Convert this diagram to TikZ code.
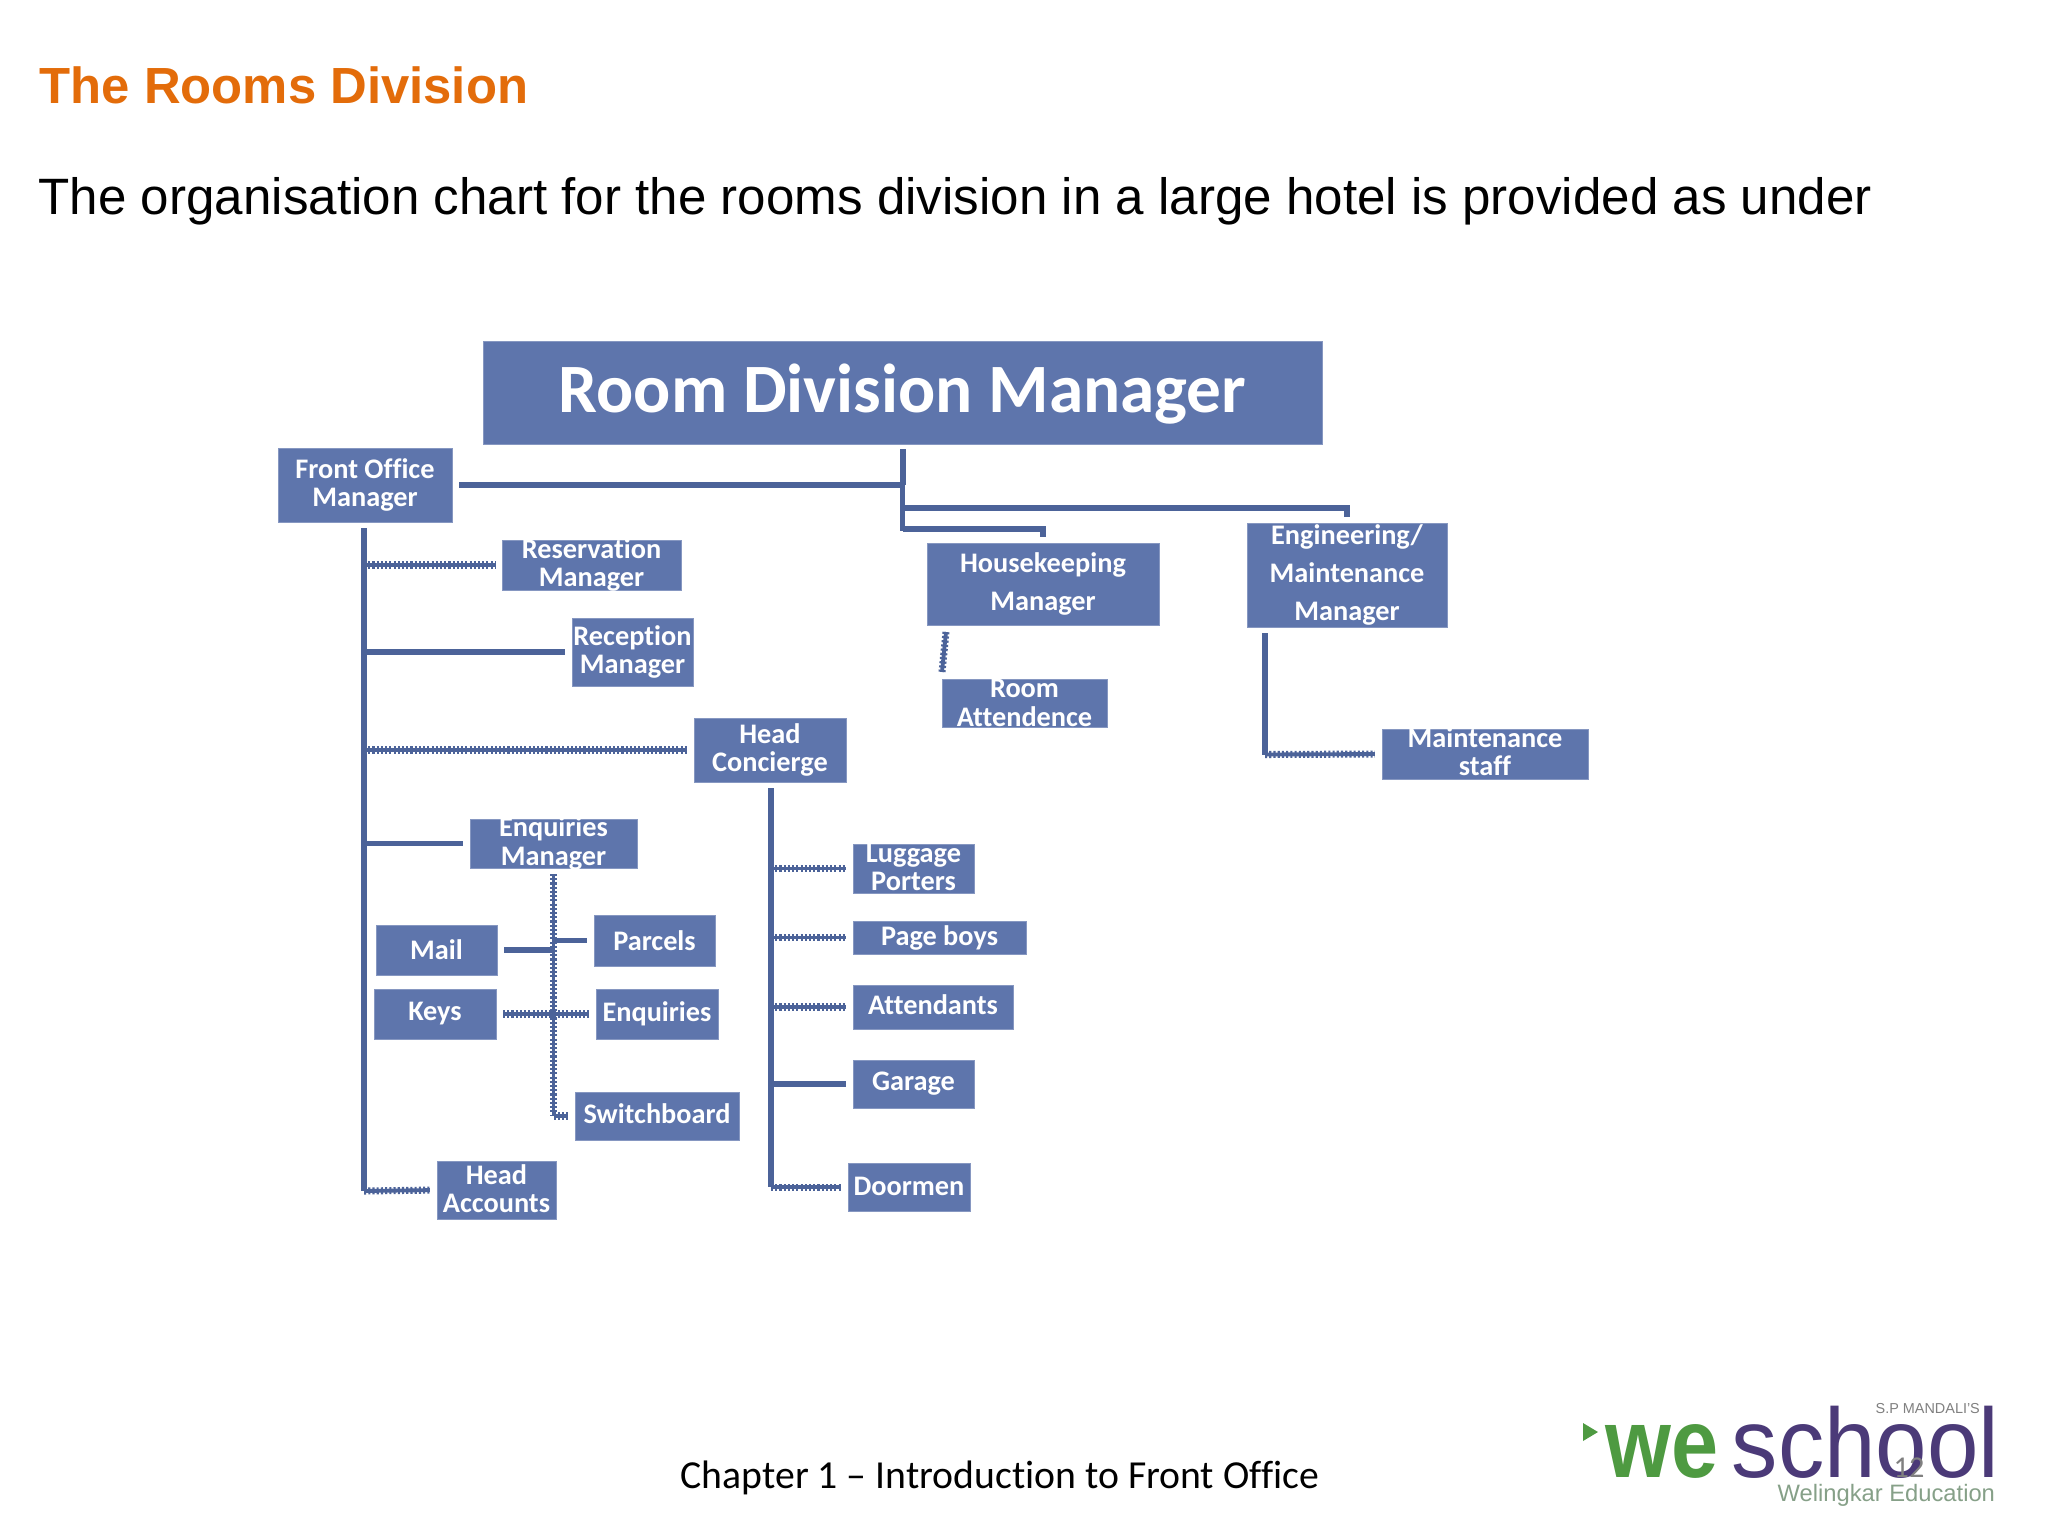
\documentclass[tikz,border=0pt]{standalone}
\usepackage{fontspec}
\usepackage{graphicx}
\setmainfont{Liberation Sans}
\newfontfamily\chartfont[Ligatures=NoCommon]{Carlito}
\usetikzlibrary{calc}
\definecolor{boxblue}{HTML}{5E75AC}
\definecolor{lineblue}{HTML}{4C6399}
\definecolor{headorange}{HTML}{E36C0A}
\definecolor{logogreen}{HTML}{4E9A41}
\definecolor{logopurple}{HTML}{4B3A78}
\definecolor{logogrey}{HTML}{86A088}
\tikzset{
  box/.style={draw=boxblue!75!white,line width=0.2pt,fill=boxblue,inner sep=0pt,outer sep=0pt},
  boxtext/.style={text=white,inner sep=0pt,align=center,font=\chartfont\bfseries\fontsize{8.05}{8.2}\selectfont},
  ln/.style={draw=lineblue,line width=1.6pt},
  thick ln/.style={draw=lineblue,line width=1.7pt},
  core/.style={draw=lineblue,line width=1.1pt},
  teeth/.style={draw=lineblue,line width=2pt,dash pattern=on 0.6pt off 0.6pt},
  gap/.style={shorten >=2pt},
}
% name, x1,y1,x2,y2, text options, text
\newcommand\bx[7]{%
  \node[box,minimum width={(#4-#2)*0.01cm},minimum height={(#5-#3)*0.01cm}] (#1) at ({(#2+#4)/2},{(#3+#5)/2}) {};
  \node[boxtext,#6] (#1-t) at (#1) {#7};}
\newcommand\wavy[3][]{%
  \draw[core,#1] #2 -- #3;
  \draw[teeth,#1] #2 -- #3;}
\begin{document}
\begin{tikzpicture}[x=0.01cm,y=-0.01cm]
\useasboundingbox (0,0) rectangle (2048,1536);
\fill[white] (0,0) rectangle (2048,1536);
% headings
\node[anchor=base west,inner sep=0pt,text=headorange,font=\bfseries\fontsize{14.45}{16}\selectfont] (title) at (39,103) {The Rooms Division};
\node[anchor=base west,inner sep=0pt,font=\fontsize{14.54}{16}\selectfont] (intro) at (38,214) {The organisation chart for the rooms division in a large hotel is provided as under};
% boxes
\bx{root}{483}{341}{1322}{444}{font=\chartfont\bfseries\fontsize{19.7}{20}\selectfont,yshift=-0.5pt}{Room Division Manager}
\bx{fo}{278}{448}{452}{522}{}{Front Office\\[-0.05pt]Manager}
\bx{res}{502}{540}{681}{590}{}{Reservation\\[-0.05pt]Manager}
\bx{rec}{572}{618}{693}{686}{}{Reception\\[-0.05pt]Manager}
\bx{hc}{694}{718}{846}{782}{}{Head\\[-0.05pt]Concierge}
\bx{em}{470}{819}{637}{868}{}{Enquiries\\[-0.05pt]Manager}
\bx{mail}{376}{925}{497}{975}{}{Mail}
\bx{keys}{374}{989}{496}{1039}{}{Keys}
\bx{par}{594}{915}{715}{966}{}{Parcels}
\bx{enq}{596}{989}{718}{1039}{}{Enquiries}
\bx{sw}{575}{1092}{739}{1140}{yshift=0.75pt}{Switchboard}
\bx{ha}{437}{1161}{556}{1219}{yshift=0.35pt}{Head\\[-0.05pt]Accounts}
\bx{lug}{853}{844}{974}{893}{yshift=0.35pt}{Luggage\\[-0.05pt]Porters}
\bx{pb}{853}{921}{1026}{954}{}{Page boys}
\bx{att}{853}{985}{1013}{1029}{yshift=0.75pt}{Attendants}
\bx{gar}{853}{1060}{974}{1108}{}{Garage}
\bx{door}{848}{1163}{970}{1211}{yshift=0.2pt}{Doormen}
\bx{hk}{927}{543}{1159}{625}{}{Housekeeping\\[2.6pt]Manager}
\bx{eng}{1247}{523}{1447}{627}{}{Engineering/\\[2.6pt]Maintenance\\[2.6pt]Manager}
\bx{ra}{942}{679}{1107}{727}{}{Room\\[-0.05pt]Attendence}
\bx{ms}{1382}{729}{1588}{779}{yshift=0.7pt}{Maintenance\\[-0.05pt]staff}
% junction coordinates
\coordinate (stemtop) at (902.5,449);
\coordinate (stembot) at (902.5,531);
\coordinate (upj) at (902.5,508);
\coordinate (lowj) at (902.5,529);
\coordinate (fotop) at (364,528);
\coordinate (fobot) at (364,1191);
\coordinate (hctop) at (771,788);
\coordinate (hcbot) at (771,1187);
\coordinate (emtop) at (553.5,874);
\coordinate (embot) at (553.5,1116);
\coordinate (engtop) at (1265,633);
\coordinate (engbot) at (1265,754.5);
\coordinate (hkfoot) at (946,632);
\coordinate (rahead) at (942,672);
% root connectors
\draw[ln] (stemtop) -- (stembot);
\wavy[line width=1.1pt]{(904,449)}{(904,485)}
\draw[ln,shorten <=2pt] (fo.east) -- (stemtop |- fo);
\draw[thick ln,shorten >=1.7pt] (upj) -| (eng.north);
\draw[thick ln,shorten >=1.7pt] (lowj) -| (hk.north);
% front office trunk
\draw[ln] (fotop) -- (fobot);
\wavy[gap]{(fotop |- res)}{(res.west)}
\draw[ln,gap] (fotop |- rec) -- (rec.west);
\wavy[gap]{(fotop |- hc)}{(hc.west)}
\draw[ln,gap] (fotop |- em) -- (em.west);
\wavy[gap]{(fobot)}{(ha.west)}
% enquiries
\wavy{(emtop)}{(embot)}
\wavy[gap]{(embot)}{(sw.west)}
\draw[ln,shorten <=2pt] (mail.east) -- (emtop |- mail);
\draw[ln,gap] (emtop |- par) -- (par.west);
\wavy[shorten <=2pt,shorten >=2pt]{(keys.east)}{(enq.west)}
% concierge
\draw[ln] (hctop) -- (hcbot);
\wavy[gap]{(hctop |- lug)}{(lug.west)}
\wavy[gap]{(hctop |- pb)}{(pb.west)}
\wavy[gap]{(hctop |- att)}{(att.west)}
\draw[ln,gap] (hctop |- gar) -- (gar.west);
\wavy[gap]{(hcbot)}{(door.west)}
% housekeeping and engineering
\wavy{(hkfoot)}{(rahead)}
\draw[ln] (engtop) -- (engbot);
\wavy[gap]{(engbot)}{(ms.west)}
% footer
\node[anchor=base west,inner sep=0pt,font=\chartfont\fontsize{11.29}{13}\selectfont] (foot) at (680,1488) {Chapter 1 – Introduction to Front Office};
% logo
\fill[logogreen] (1583,1423) -- (1598,1432) -- (1583,1441) -- cycle;
\node[anchor=base west,inner sep=0pt,text=logogreen,font=\bfseries\fontsize{28}{28}\selectfont] (we) at (1605,1477) {\scalebox{0.86}[1]{we}};
\node[anchor=base west,inner sep=0pt,text=logopurple,font=\fontsize{28}{28}\selectfont] (school) at (1731,1477) {\scalebox{0.94}[1]{school}};
\node[anchor=base west,inner sep=0pt,text=gray,font=\fontsize{4.1}{4}\selectfont] (sp) at (1875,1413) {S.P MANDALI'S};
\node[anchor=base west,inner sep=0pt,text=logogrey,font=\fontsize{6.75}{7}\selectfont] (wel) at (1777,1501) {Welingkar Education};
\node[anchor=base west,inner sep=0pt,text=gray,font=\chartfont\fontsize{8.6}{9}\selectfont] (pg) at (1893,1477) {12};
\end{tikzpicture}
\end{document}
